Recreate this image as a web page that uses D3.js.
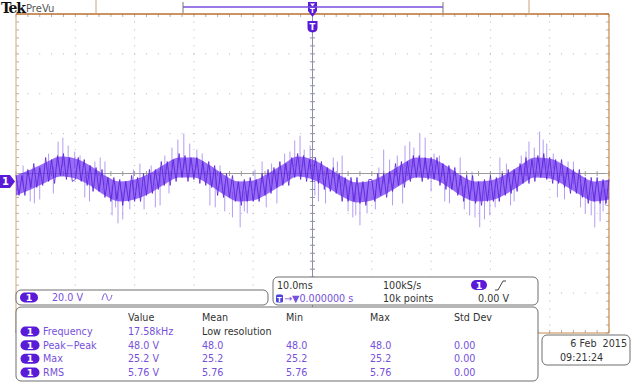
<!DOCTYPE html>
<html>
<head>
<meta charset="utf-8">
<script src="https://cdn.jsdelivr.net/npm/d3@7"></script>
<style>
body { margin: 0; background: #fff; }
svg text { font-family: "DejaVu Sans", sans-serif; font-size: 9.6px; }
</style>
</head>
<body>
<svg id="scope" width="633" height="385"></svg>
<script>
// ---- data ----
// CH1 samples, volts, every 0.5 ms over the 100 ms record
const TRACE_STEP_MS = 0.5;
const traceV = [
  3,-7,3,-7,6,-3,9,-3,7,-2,12,0,11,-1,13,3,14,1,12,0,
  1,12,0,11,-2,8,-5,7,-5,6,-8,2,-10,2,-9,1,-12,0,-10,3,
  -10,2,-10,4,-7,6,-6,6,-4,10,-2,10,-2,11,0,14,2,13,0,12,
  1,12,-1,10,-2,10,-3,8,-7,5,-8,4,-8,3,-10,0,-12,1,-10,2,
  -10,1,-10,4,-7,6,-6,7,-3,10,-2,9,-2,12,2,14,1,13,0,11,
  0,12,-1,10,-4,7,-5,7,-6,4,-10,2,-10,2,-10,2,-11,0,-12,1,
  1,-10,4,-7,4,-8,5,-5,9,-2,10,-3,10,0,13,2,13,0,12,1,
  12,1,12,-2,9,-4,8,-4,7,-7,3,-10,3,-9,3,-11,0,-12,1,-10,
  3,-10,2,-10,4,-7,6,-6,6,-5,9,-1,12,-1,11,0,13,2,14,1,
  12,-1,11,-1,11,-3,7,-6,6,-6,6,-8,2,-11,2,-10,2,-11,1,-11,1
];

// dense core of the noise band, volts, every 2.5 ms
const BAND_STEP_MS = 2.5;
const bandHi = [3,6,9.5,12.5,11.5,8,3,0,1,4,8.5,12,12,8.5,3.5,0,0.5,4,8.5,12.5,11,
                7,2.5,-0.5,0.5,4,8.5,12,11.5,8,3,0,0.5,3.5,8,12,11.5,8,3.5,0,1];
const bandLo = [-7,-4,-0.5,2.5,1.5,-2,-7,-10,-9,-6,-1.5,2,2,-1.5,-6.5,-10,-9.5,-6,-1.5,2.5,1,
                -3,-7.5,-10.5,-9.5,-6,-1.5,2,1.5,-2,-7,-10,-9.5,-6.5,-2,2,1.5,-2,-6.5,-10,-9];

// glitch spikes: time (ms) and tip (volts)
const spikeT = [2.4,4,7.1,7.9,8.8,9.9,11.6,14.2,15,16.2,17.2,18,19.2,20.9,24.3,26.3,27.3,28.3,29.3,30.5,
                32.7,35.2,36.5,37.8,39,41.5,44,46.2,47,47.9,49.6,51,53.5,55,56.8,58,59.2,62,63.5,65.2,
                65.6,66.4,68.1,69,70.5,72.3,74.9,76.5,77.4,78.2,79.9,81.6,84,86.5,87.4,88.3,89.5,90.6,92.5,94,
                96,97.6,98.5,99.4,
                1.2,3.1,5.5,6.3,10.8,12.4,13.3,16.8,19.8,21.6,22.8,23.5,25.1,25.8,31.4,33.6,34.4,38.5,40.3,42.2,
                43.1,45.3,48.6,50.4,52.2,54.2,56,57.3,60.6,61.2,63,64.3,67.1,70,71.4,73.1,75.6,76.9,79,80.8,
                82.7,83.4,85.2,86,88.9,91.3,93.1,95.2,97,99];
const spikeV = [-10,-9,20,22,18,15,-8,12,10,-17,-21,-19,-14,9,-12,17,21,24,19,16,
                -12,-15,-18,-23,-16,10,-11,15,20.6,23,18,-10,12,13,-18,-22,-16,16,-12,-11,
                18,20,24,22,14,-10,12,-17,-18,-23,-17,12,-10,20,17,25,19,14,-9,10,
                -16,-23,-20,-12,
                8,-11,14,-6,13,-10,10,-13,6,-14,8,-13,13,-6,14,-13,8,-15,6,-13,
                9,14,16,-7,-11,10,-15,-17,-14,7,11,13,17,-5,13,-11,-14,5,-19,-13,
                9,-12,13,15,21,-8,10,-13,-17,-15];

// readouts
const measHeaders = ['Value', 'Mean', 'Min', 'Max', 'Std Dev'];
const measNames = ['Frequency', 'Peak\u2212Peak', 'Max', 'RMS'];
const measValue = ['17.58kHz', '48.0 V', '25.2 V', '5.76 V'];
const measMean = ['Low resolution', '48.0', '25.2', '5.76'];
const measMin = ['', '48.0', '25.2', '5.76'];
const measMax = ['', '48.0', '25.2', '5.76'];
const measStd = ['', '0.00', '0.00', '0.00'];

const VOLTS_PER_DIV = 20;
const CH1_OFFSET_DIV = -0.2;
const PURPLE = '#5a1bd9';
const TEXT_PURPLE = '#7650dc';
const FRAME = '#c8874a';

const svg = d3.select('#scope');

// scales: time in ms across 10 divisions, vertical in divisions
const x = d3.scaleLinear().domain([0, 100]).range([16, 609]);
const yDiv = d3.scaleLinear().domain([-4, 4]).range([333, 14]);
const yV = v => yDiv(v / VOLTS_PER_DIV + CH1_OFFSET_DIV);

// ---- graticule ----
const grid = svg.append('g');
const minorY = d3.range(-4, 4.001, 0.2);
const minorX = d3.range(0, 100.001, 2);

// dotted division lines
[10, 20, 30, 40, 60, 70, 80, 90].forEach(t => {
  grid.selectAll(null).data(minorY).enter().append('rect')
    .attr('x', x(t) - 0.5).attr('y', d => yDiv(d) - 0.5)
    .attr('width', 1).attr('height', 1).attr('fill', '#b4b4b4');
});
[-3, -2, -1, 1, 2, 3].forEach(dv => {
  grid.selectAll(null).data(minorX).enter().append('rect')
    .attr('x', d => x(d) - 0.5).attr('y', yDiv(dv) - 0.5)
    .attr('width', 1).attr('height', 1).attr('fill', '#b4b4b4');
});

// centre crosshair with ticks
grid.append('line').attr('x1', x(0)).attr('x2', x(100)).attr('y1', yDiv(0)).attr('y2', yDiv(0))
  .attr('stroke', '#9a9a9a').attr('stroke-width', 1);
grid.append('line').attr('x1', x(50)).attr('x2', x(50)).attr('y1', yDiv(4)).attr('y2', yDiv(-4))
  .attr('stroke', '#8c8fa8').attr('stroke-width', 1);
grid.selectAll(null).data(minorX).enter().append('line')
  .attr('x1', d => x(d)).attr('x2', d => x(d))
  .attr('y1', yDiv(0) - 2.5).attr('y2', yDiv(0) + 2.5).attr('stroke', '#9a9a9a');
grid.selectAll(null).data(minorY).enter().append('line')
  .attr('x1', x(50) - 2.5).attr('x2', x(50) + 2.5)
  .attr('y1', d => yDiv(d)).attr('y2', d => yDiv(d)).attr('stroke', '#8c8fa8');

// edge ticks
grid.selectAll(null).data(minorX).enter().append('line')
  .attr('x1', d => x(d)).attr('x2', d => x(d)).attr('y1', yDiv(4)).attr('y2', yDiv(4) + 3)
  .attr('stroke', '#b0b0b0');
grid.selectAll(null).data(minorX).enter().append('line')
  .attr('x1', d => x(d)).attr('x2', d => x(d)).attr('y1', yDiv(-4)).attr('y2', yDiv(-4) - 3)
  .attr('stroke', '#b0b0b0');
grid.selectAll(null).data(minorY).enter().append('line')
  .attr('x1', x(0)).attr('x2', x(0) + 3).attr('y1', d => yDiv(d)).attr('y2', d => yDiv(d))
  .attr('stroke', '#b0b0b0');
grid.selectAll(null).data(minorY).enter().append('line')
  .attr('x1', x(100)).attr('x2', x(100) - 3).attr('y1', d => yDiv(d)).attr('y2', d => yDiv(d))
  .attr('stroke', '#b0b0b0');

// frame
grid.append('line').attr('x1', x(0)).attr('x2', x(0)).attr('y1', yDiv(4)).attr('y2', yDiv(-4))
  .attr('stroke', '#dcb48c').attr('stroke-width', 1.2);
grid.append('line').attr('x1', x(100)).attr('x2', x(100)).attr('y1', yDiv(4)).attr('y2', yDiv(-4))
  .attr('stroke', FRAME).attr('stroke-width', 1.2);
grid.append('line').attr('x1', x(0)).attr('x2', x(100)).attr('y1', yDiv(-4)).attr('y2', yDiv(-4))
  .attr('stroke', FRAME).attr('stroke-width', 1.2);
grid.append('line').attr('x1', x(0)).attr('x2', x(100)).attr('y1', yDiv(4)).attr('y2', yDiv(4))
  .attr('stroke', '#b86f2c').attr('stroke-width', 1.6);

// ---- CH1 trace ----
const trace = svg.append('g');
const bandArea = d3.area()
  .x((d, i) => x(i * BAND_STEP_MS))
  .y0((d, i) => yV(bandLo[i]))
  .y1(d => yV(d))
  .curve(d3.curveMonotoneX);

trace.selectAll('line.spike').data(spikeT).enter().append('line')
  .attr('class', 'spike')
  .attr('x1', d => x(d)).attr('x2', d => x(d))
  .attr('y1', d => {
    const k = Math.round(d / BAND_STEP_MS);
    return yV((bandHi[k] + bandLo[k]) / 2);
  })
  .attr('y2', (d, i) => yV(spikeV[i]))
  .attr('stroke', '#9a7df0').attr('stroke-width', 1).attr('opacity', 0.75);

trace.append('path').datum(bandHi).attr('d', bandArea)
  .attr('fill', '#6a2ff0').attr('opacity', 0.7);

const traceLine = d3.line()
  .x((d, i) => x(i * TRACE_STEP_MS))
  .y(d => yV(d));
trace.append('path').datum(traceV).attr('d', traceLine)
  .attr('fill', 'none').attr('stroke', '#5a1bd9').attr('stroke-width', 1).attr('opacity', 0.8);

// ---- markers ----
function pill(g, cx, cy, w, h, label) {
  g.append('rect').attr('x', cx - w / 2).attr('y', cy - h / 2).attr('width', w).attr('height', h)
    .attr('rx', h / 2).attr('fill', PURPLE);
  g.append('text').attr('x', cx).attr('y', cy + 3.5).attr('text-anchor', 'middle')
    .attr('fill', '#fff').style('font-weight', 'bold').style('font-size', '9.5px').text(label);
}

// channel ground marker
const gnd = yV(0);
svg.append('path')
  .attr('d', `M0,${gnd - 6.5} H10 L15,${gnd} L10,${gnd + 6.5} H0 Z`)
  .attr('fill', PURPLE);
svg.append('text').attr('x', 5.5).attr('y', gnd + 4).attr('text-anchor', 'middle')
  .attr('fill', '#fff').style('font-weight', 'bold').style('font-size', '10px').text('1');

// trigger position markers
const tx = x(50);
svg.append('path')
  .attr('d', `M${tx - 4.5},2 H${tx + 4.5} V11 L${tx},17 L${tx - 4.5},11 Z`)
  .attr('fill', PURPLE);
svg.append('path')
  .attr('d', `M${tx - 2.5},3.5 H${tx + 2.5} L${tx},6.5 Z`).attr('fill', '#fff');
svg.append('text').attr('x', tx).attr('y', 13).attr('text-anchor', 'middle')
  .attr('fill', '#fff').style('font-weight', 'bold').style('font-size', '7px').text('T');
svg.append('path')
  .attr('d', `M${tx - 5},21 H${tx + 5} V28 Q${tx + 5},32 ${tx},32.5 Q${tx - 5},32 ${tx - 5},28 Z`)
  .attr('fill', PURPLE);
svg.append('text').attr('x', tx).attr('y', 30).attr('text-anchor', 'middle')
  .attr('fill', '#fff').style('font-weight', 'bold').style('font-size', '8.5px').text('T');

// record view bar
svg.append('line').attr('x1', 96).attr('x2', 96).attr('y1', 0).attr('y2', 14)
  .attr('stroke', '#c9a27c').attr('stroke-width', 1);
svg.append('line').attr('x1', 529).attr('x2', 529).attr('y1', 0).attr('y2', 14)
  .attr('stroke', '#c9a27c').attr('stroke-width', 1);
svg.append('line').attr('x1', 183).attr('x2', 443).attr('y1', 7).attr('y2', 7)
  .attr('stroke', '#7a4ee0').attr('stroke-width', 1.3);
[183, 443].forEach(px => {
  svg.append('line').attr('x1', px).attr('x2', px).attr('y1', 2).attr('y2', 13)
    .attr('stroke', '#777').attr('stroke-width', 1);
});

// logo
svg.append('text').attr('x', 1).attr('y', 13)
  .style('font-family', '"DejaVu Serif", serif').style('font-weight', 'bold')
  .style('font-size', '14px').style('letter-spacing', '-1.2px').attr('fill', '#111').text('Tek');
svg.append('text').attr('x', 26).attr('y', 11.5).attr('fill', '#555').style('font-size', '10px').text('PreVu');

// ---- readout panels ----
const panel = svg.append('g');
function box(x0, y0, w, h) {
  panel.append('rect').attr('x', x0).attr('y', y0).attr('width', w).attr('height', h)
    .attr('rx', 5).attr('fill', '#fff').attr('stroke', '#6e6e6e').attr('stroke-width', 1);
}

// vertical settings
box(16, 290, 252, 15);
pill(panel, 29, 297.5, 18, 10, '1');
panel.append('text').attr('x', 52).attr('y', 301).attr('fill', TEXT_PURPLE).text('20.0 V');
panel.append('path').attr('d', 'M102,300 C104,292 106,292 107,297 C108,302 110,302 112,295')
  .attr('fill', 'none').attr('stroke', TEXT_PURPLE).attr('stroke-width', 1);

// horizontal / trigger settings
box(273, 277, 265, 28);
panel.append('text').attr('x', 277).attr('y', 289).attr('fill', '#333').text('10.0ms');
panel.append('text').attr('x', 383).attr('y', 289).attr('fill', '#333').text('100kS/s');
pill(panel, 479, 285, 16, 10, '1');
panel.append('path').attr('d', 'M495,290 H498 L503,281 H506')
  .attr('fill', 'none').attr('stroke', '#444').attr('stroke-width', 1);
panel.append('rect').attr('x', 276).attr('y', 294.5).attr('width', 7).attr('height', 8)
  .attr('rx', 1.5).attr('fill', '#4b3fe0');
panel.append('text').attr('x', 279.5).attr('y', 301.5).attr('text-anchor', 'middle')
  .attr('fill', '#fff').style('font-size', '7px').style('font-weight', 'bold').text('T');
panel.append('text').attr('x', 284).attr('y', 302).attr('fill', TEXT_PURPLE).text('\u2192\u25BC0.000000 s');
panel.append('text').attr('x', 383).attr('y', 302).attr('fill', '#333').text('10k points');
panel.append('text').attr('x', 509).attr('y', 302).attr('text-anchor', 'end').attr('fill', '#333').text('0.00 V');

// measurements table
box(16, 307, 522, 74);
const colX = [128, 202, 286, 370, 454];
panel.selectAll('text.hdr').data(measHeaders).enter().append('text')
  .attr('class', 'hdr').attr('x', (d, i) => colX[i]).attr('y', 321)
  .attr('fill', '#333').text(d => d);

const rowY = d3.scalePoint().domain(measNames).range([335, 376]);
measNames.forEach((name, i) => {
  const yy = rowY(name);
  pill(panel, 30, yy - 3.5, 19, 10, '1');
  panel.append('text').attr('x', 43).attr('y', yy).attr('fill', TEXT_PURPLE).text(name);
  const cells = [measValue[i], measMean[i], measMin[i], measMax[i], measStd[i]];
  cells.forEach((c, j) => {
    panel.append('text').attr('x', colX[j]).attr('y', yy)
      .attr('fill', c === 'Low resolution' ? '#333' : TEXT_PURPLE).text(c);
  });
});

// date box
box(542, 335, 88, 30);
panel.append('text').attr('x', 627).attr('y', 347).attr('text-anchor', 'end')
  .attr('fill', '#333').attr('xml:space', 'preserve').text('6 Feb  2015');
panel.append('text').attr('x', 560).attr('y', 361).attr('fill', '#333').text('09:21:24');
</script>
</body>
</html>
